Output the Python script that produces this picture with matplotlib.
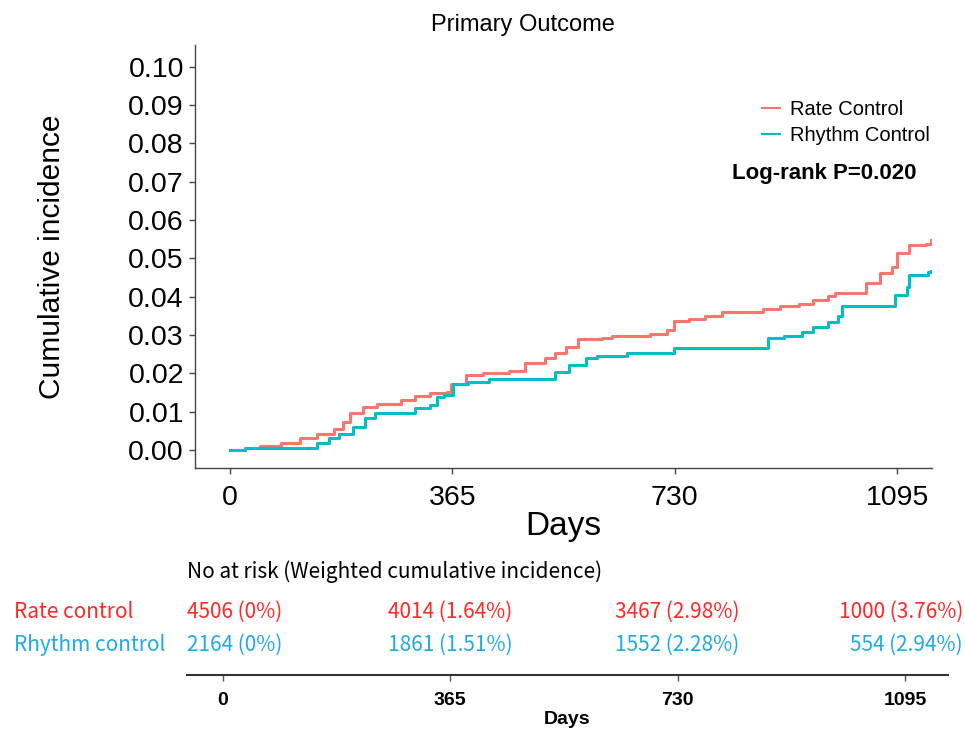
import numpy as np
import matplotlib
matplotlib.use("Agg")
import matplotlib.pyplot as plt

# Cumulative incidence step curves
days_rate = [0, 25, 49, 84, 116, 143, 171, 186, 198, 218, 241, 281, 304, 328, 356,
             363, 387, 415, 458, 485, 517, 533, 552, 572, 611, 627, 690, 717, 729,
             753, 780, 808, 875, 902, 934, 957, 981, 993, 1044, 1067, 1087, 1095,
             1115, 1142, 1150]
inc_rate = [0, 0.0005, 0.001, 0.0017, 0.003, 0.0043, 0.0054, 0.0074, 0.0096, 0.0113,
            0.012, 0.013, 0.0142, 0.0148, 0.0152, 0.0172, 0.0197, 0.0202, 0.0207,
            0.0226, 0.0239, 0.0252, 0.027, 0.0289, 0.0291, 0.0297, 0.0304, 0.0313,
            0.0337, 0.0343, 0.035, 0.0361, 0.0367, 0.0376, 0.0381, 0.0391, 0.0402,
            0.041, 0.0435, 0.0463, 0.0478, 0.0513, 0.0535, 0.0537, 0.0548]

days_rhythm = [0, 25, 143, 163, 179, 202, 222, 238, 304, 328, 340, 352, 366, 391, 426,
               533, 556, 584, 603, 651, 729, 883, 910, 938, 957, 981, 997, 1004, 1091,
               1111, 1115, 1146, 1150]
inc_rhythm = [0, 0.0004, 0.0017, 0.003, 0.0043, 0.0061, 0.0083, 0.0096, 0.0109, 0.0117,
              0.0139, 0.0143, 0.0172, 0.0178, 0.0185, 0.0204, 0.0223, 0.0239, 0.0245,
              0.0252, 0.0265, 0.0291, 0.0297, 0.0309, 0.0322, 0.0335, 0.035, 0.0376,
              0.0404, 0.0426, 0.0457, 0.0465, 0.0467]

# Number at risk table
risk_days = [0, 365, 730, 1095]
risk_rate = ["4506 (0%)", "4014 (1.64%)", "3467 (2.98%)", "1000 (3.76%)"]
risk_rhythm = ["2164 (0%)", "1861 (1.51%)", "1552 (2.28%)", "554 (2.94%)"]

RED = "#F8766D"
CYAN = "#00BFC4"
TXT_RED = "#FF2828"
TXT_CYAN = "#1EAAE4"

plt.rcParams['font.family'] = ['Liberation Sans', 'DejaVu Sans']

fig = plt.figure(figsize=(9.65, 7.34), dpi=100)
W, H = 965, 734

# main plot
ax = fig.add_axes([195 / W, 1 - 468 / H, 737 / W, 423 / H])
ax.step(days_rate, inc_rate, where='post', color=RED, lw=2.2, label='Rate Control')
ax.step(days_rhythm, inc_rhythm, where='post', color=CYAN, lw=2.2, label='Rhythm Control')
ax.set_xlim(-57, 1152)
ax.set_ylim(-0.0047, 0.1057)
ax.set_xticks(risk_days)
ax.set_yticks(np.arange(0, 0.101, 0.01))
ax.yaxis.set_major_formatter(matplotlib.ticker.FormatStrFormatter('%.2f'))
for s in ['top', 'right']:
    ax.spines[s].set_visible(False)
for s in ['left', 'bottom']:
    ax.spines[s].set_color('#444444')
    ax.spines[s].set_linewidth(1.0)
ax.tick_params(axis='both', length=4, width=1, color='#444444', labelsize=20.5, labelcolor='black')
ax.tick_params(axis='x', pad=8)
ax.tick_params(axis='y', pad=4)
ax.set_ylabel('Cumulative incidence', fontsize=21.5)
ax.yaxis.set_label_coords(-0.175, 0.5)
ax.set_xlabel('Days', fontsize=24)
ax.xaxis.set_label_coords(0.5, -0.102)

leg = ax.legend(loc='upper left', bbox_to_anchor=(752 / W, 1 - 90 / H),
                bbox_transform=fig.transFigure, frameon=False, fontsize=14.5,
                handlelength=0.9, handletextpad=0.5, labelspacing=0.35, borderpad=0)
for line in leg.get_lines():
    line.set_linewidth(1.5)

fig.text(732 / W, 1 - 174 / H, 'Log-rank P=0.020', fontsize=16, fontweight='bold',
         ha='left', va='center')
fig.text(523 / W, 1 - 25 / H, 'Primary Outcome', fontsize=17, ha='center', va='center')

# risk table
ax2 = fig.add_axes([187 / W, 1 - 675 / H, 761 / W, 115 / H])
ax2.set_xlim(-57, 1164)
ax2.set_ylim(0, 1)
for s in ['top', 'right', 'left']:
    ax2.spines[s].set_visible(False)
ax2.spines['bottom'].set_color('#333333')
ax2.spines['bottom'].set_linewidth(1.5)
ax2.set_yticks([])
ax2.set_xticks(risk_days)
ax2.tick_params(axis='x', length=4, width=1, color='#555555', labelsize=14, pad=8)
for lab in ax2.get_xticklabels():
    lab.set_fontweight('bold')
ax2.set_xlabel('Days', fontsize=14, fontweight='bold', labelpad=2)

tfont = ['Noto Sans CJK KR', 'DejaVu Sans']
ax2.text(-57, 0.896, 'No at risk (Weighted cumulative incidence)', fontsize=15,
         family=tfont, ha='left', va='center')
ax2.text(-0.227, 0.548, 'Rate control', transform=ax2.transAxes, fontsize=15,
         family=tfont, color=TXT_RED, ha='left', va='center')
ax2.text(-0.227, 0.261, 'Rhythm control', transform=ax2.transAxes, fontsize=15,
         family=tfont, color=TXT_CYAN, ha='left', va='center')
last = len(risk_days) - 1
for i, d in enumerate(risk_days):
    if i == 0:
        kw = dict(x=-57, ha='left')
    elif i == last:
        kw = dict(x=1.0197, ha='right', transform=ax2.get_yaxis_transform())
    else:
        kw = dict(x=d, ha='center')
    x = kw.pop('x')
    ax2.text(x, 0.548, risk_rate[i], fontsize=15, family=tfont, color=TXT_RED,
             va='center', clip_on=False, **kw)
    ax2.text(x, 0.261, risk_rhythm[i], fontsize=15, family=tfont, color=TXT_CYAN,
             va='center', clip_on=False, **kw)

fig.savefig('out.png', dpi=100)
